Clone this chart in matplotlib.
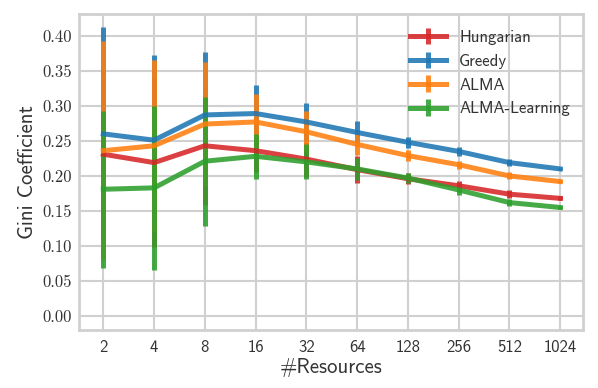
import numpy as np
import matplotlib.pyplot as plt

# ---------------------------------------------------------
# DATA
# ---------------------------------------------------------
resources = [2, 4, 8, 16, 32, 64, 128, 256, 512, 1024]

hungarian = [0.231, 0.219, 0.243, 0.236, 0.224, 0.209, 0.196, 0.186, 0.174, 0.168]
hungarian_err = [0.120, 0.120, 0.085, 0.030, 0.025, 0.019, 0.008, 0.007, 0.006, 0.003]

greedy = [0.260, 0.251, 0.287, 0.289, 0.277, 0.262, 0.248, 0.235, 0.219, 0.210]
greedy_err = [0.152, 0.122, 0.090, 0.040, 0.027, 0.016, 0.008, 0.006, 0.005, 0.002]

alma = [0.236, 0.243, 0.274, 0.277, 0.263, 0.245, 0.229, 0.216, 0.200, 0.192]
alma_err = [0.156, 0.123, 0.088, 0.040, 0.029, 0.015, 0.008, 0.006, 0.005, 0.002]

alma_learning = [0.181, 0.183, 0.221, 0.228, 0.220, 0.210, 0.197, 0.180, 0.162, 0.155]
alma_learning_err = [0.112, 0.117, 0.092, 0.032, 0.025, 0.016, 0.007, 0.007, 0.005, 0.002]

labels = ["Hungarian", "Greedy", "ALMA", "ALMA-Learning"]
colors = ["#d62728", "#1f77b4", "#ff7f0e", "#2ca02c"]

# ---------------------------------------------------------
# PLOT
# ---------------------------------------------------------
fig, ax = plt.subplots(figsize=(5.98, 3.88), dpi=100)
fig.subplots_adjust(left=0.132, right=0.975, top=0.964, bottom=0.149)

x = np.arange(len(resources))
series = [(hungarian, hungarian_err), (greedy, greedy_err),
          (alma, alma_err), (alma_learning, alma_learning_err)]
for (vals, errs), lab, col in zip(series, labels, colors):
    ax.errorbar(x, vals, yerr=errs, color=col, lw=3.6, elinewidth=3.6,
                capsize=0, alpha=0.88, label=lab)

grey = "#d0d0d0"
ax.grid(True, color=grey, lw=1.5)
ax.set_axisbelow(True)
for sp in ax.spines.values():
    sp.set_color(grey)
    sp.set_linewidth(2)

ax.set_xlim(-0.48, 9.45)
ax.set_ylim(-0.02, 0.431)
ax.set_xticks(x)
ax.set_xticklabels([str(r) for r in resources], family="cmss10", fontsize=12, color="#333333")
yt = np.arange(0, 0.401, 0.05)
ax.set_yticks(yt)
ax.set_yticklabels([f"{v:.2f}" for v in yt], family="cmr10", fontsize=12, color="#333333")
ax.tick_params(axis="both", length=0)
ax.tick_params(axis="x", pad=7)
ax.tick_params(axis="y", pad=5)

ax.set_xlabel("#Resources", family="cmss10", fontsize=15, color="#333333", labelpad=2)
ax.set_ylabel("Gini Coefficient", family="cmss10", fontsize=15, color="#333333", labelpad=4)

leg = ax.legend(loc="upper right", bbox_to_anchor=(1.004, 0.997), frameon=False,
                prop={"family": "cmss10", "size": 12}, handlelength=2.15,
                labelspacing=0.53, handletextpad=0.8)
for t in leg.get_texts():
    t.set_color("#333333")

fig.savefig("out.png", dpi=100)
